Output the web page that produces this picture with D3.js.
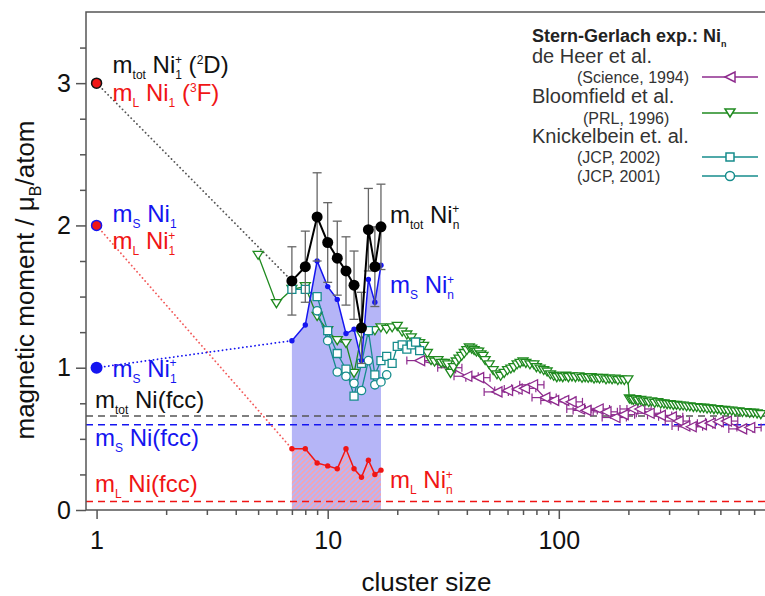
<!DOCTYPE html>
<html>
<head>
<meta charset="utf-8">
<script src="https://d3js.org/d3.v7.min.js"></script>
<style>
  body { margin: 0; background: #fff; }
  svg { font-family: Arial, "Liberation Sans", sans-serif; }
</style>
</head>
<body>
<script>
// ---- data ----
// cationic clusters (XMCD), n = 7..17
var clusterN   = [7, 8, 9, 10, 11, 12, 13, 14, 15, 16, 17];
var mTot       = [1.61, 1.71, 2.06, 1.88, 1.77, 1.68, 1.58, 1.28, 1.97, 1.71, 1.99];
var mTotErr    = [0.24, 0.25, 0.31, 0.28, 0.26, 0.24, 0.24, 0.25, 0.29, 0.28, 0.30];
var mSpin      = [1.19, 1.30, 1.75, 1.57, 1.48, 1.24, 1.27, 1.05, 1.62, 1.46, 1.72];
var mOrb       = [0.43, 0.43, 0.33, 0.31, 0.29, 0.43, 0.29, 0.23, 0.35, 0.25, 0.28];

// atom values (n = 1)
var atomTot = 3, atomSpin = 2, atomSpinIon = 1;
// bulk fcc values
var bulkTot = 0.66, bulkSpin = 0.60, bulkOrb = 0.06;

// Stern-Gerlach: de Heer et al. (Science 1994)
var heerN = [25, 34, 40, 45, 54, 60, 66, 71, 77, 87, 95, 105, 113, 123, 131, 148, 160, 175, 190, 209,
             224, 246, 275, 307, 328, 351, 374, 414, 452, 490, 531, 618, 670];
var heerM = [1.05, 1.00, 0.94, 0.93, 0.83, 0.84, 0.85, 0.855, 0.88, 0.79, 0.77, 0.77, 0.76, 0.71, 0.70, 0.71, 0.69, 0.65, 0.67, 0.71,
             0.71, 0.68, 0.665, 0.655, 0.625, 0.59, 0.585, 0.60, 0.61, 0.62, 0.625, 0.57, 0.58];
var heerSizeErr = 0.12;

// Bloomfield et al. (PRL 1996)
var bloomN = [5, 6, 7, 8, 9, 10, 11, 12, 13, 14, 15, 16, 17, 18, 19, 20, 21, 22, 23, 24, 25, 26, 27, 28, 29, 30,
              31, 32, 33, 34, 35, 36, 37, 38, 39, 40, 41, 42, 43, 44, 45, 46, 47, 48, 50, 52, 54, 56, 58, 60,
              62, 64, 66, 68, 70, 72, 75, 78, 80, 83, 86, 89, 92, 95, 98, 101, 104, 107, 110, 114, 118, 122,
              126, 130, 134, 138, 142, 146, 150, 155, 160, 165, 170, 175, 180, 186, 192, 199, 202, 206, 210,
              215, 220, 226, 232, 238, 245, 252, 260, 268, 276, 285, 294, 303, 313, 323, 334, 345, 357, 369,
              382, 395, 409, 423, 438, 453, 469, 486, 503, 521, 540, 560, 580, 601, 623, 646, 670, 695, 721, 748];
var bloomM = [1.79, 1.45, 1.55, 1.57, 1.36, 1.26, 1.19, 1.17, 0.96, 1.23, 1.25, 1.26, 1.28, 1.27, 1.28, 1.29, 1.25, 1.23, 1.21, 1.18, 1.17, 1.15, 1.10, 1.05, 1.04, 1.05,
              1.03, 1.03, 1.02, 0.96, 1.00, 1.04, 1.06, 1.08, 1.10, 1.12, 1.14, 1.13, 1.12, 1.11, 1.11, 1.09, 1.08, 1.05, 1.02, 0.98, 0.95, 0.94, 0.96, 0.98,
              0.99, 1.00, 1.02, 1.03, 1.04, 1.03, 1.02, 1.02, 1.00, 0.99, 0.98, 0.97, 0.95, 0.94, 0.93, 0.935, 0.93, 0.94, 0.93, 0.935, 0.93, 0.935,
              0.925, 0.93, 0.925, 0.93, 0.92, 0.925, 0.92, 0.925, 0.915, 0.92, 0.915, 0.92, 0.91, 0.915, 0.91, 0.915, 0.78, 0.775, 0.77,
              0.775, 0.765, 0.77, 0.76, 0.765, 0.755, 0.76, 0.75, 0.755, 0.745, 0.745, 0.74, 0.74, 0.735, 0.735, 0.73, 0.73, 0.725, 0.725,
              0.72, 0.72, 0.715, 0.715, 0.71, 0.71, 0.705, 0.705, 0.70, 0.70, 0.695, 0.695, 0.69, 0.69, 0.685, 0.685, 0.68, 0.68, 0.675, 0.67];

// Knickelbein et al. (JCP 2002, squares; JCP 2001, circles)
var knick02N = [7, 8, 9, 10, 11, 12, 13, 14, 15, 16, 17, 18, 19, 20, 21, 22, 23, 24, 25];
var knick02M = [1.55, 1.55, 1.50, 1.26, 1.10, 0.99, 0.80, 1.03, 1.26, 0.95, 1.05, 1.08, 1.03, 1.15, 1.16, 1.13, 1.16, 1.18, 1.12];
var knick01N = [9, 10, 11, 12, 13, 14, 15, 16, 17, 18];
var knick01M = [1.40, 1.19, 0.97, 0.94, 0.89, 0.84, 1.05, 0.88, 0.90, 0.95];

var xTicks = [1, 10, 100];
var yTicks = [0, 1, 2, 3];

// ---- layout ----
var width = 765, height = 596;
var pLeft = 86, pRight = 765, pTop = 12, pBottom = 510;

var blue = "#1515f0", red = "#f01515", grey = "#555",
    purple = "#8e2b8e", green = "#1f8a1f", teal = "#168c8c";

var svg = d3.select("body").append("svg")
    .attr("width", width)
    .attr("height", height);

var x = d3.scaleLog().domain([0.9, 780]).range([pLeft, pRight]);
var y = d3.scaleLinear().domain([0, 3.5]).range([pBottom, pTop]);

var defs = svg.append("defs");
defs.append("clipPath").attr("id", "clip")
  .append("rect")
    .attr("x", pLeft).attr("y", pTop)
    .attr("width", pRight - pLeft).attr("height", pBottom - pTop);

var hatch = defs.append("pattern")
    .attr("id", "hatch")
    .attr("patternUnits", "userSpaceOnUse")
    .attr("width", 5).attr("height", 5);
hatch.append("path")
    .attr("d", "M-1,1 l2,-2 M0,5 l5,-5 M4,6 l2,-2")
    .attr("stroke", "#f5a3b0")
    .attr("stroke-width", 1.6);

var plot = svg.append("g").attr("clip-path", "url(#clip)");

function zip(a, b) { return a.map(function(d, i) { return [d, b[i]]; }); }

// shaded areas under m_S and m_L of the cations
var area = d3.area()
    .x(function(d) { return x(d[0]); })
    .y0(y(0))
    .y1(function(d) { return y(d[1]); });

plot.append("path")
    .datum(zip(clusterN, mSpin))
    .attr("d", area)
    .attr("fill", "#b5b5f7");

plot.append("path")
    .datum(zip(clusterN, mOrb))
    .attr("d", area)
    .attr("fill", "url(#hatch)");

// bulk reference lines
[[bulkTot, grey], [bulkSpin, blue], [bulkOrb, red]].forEach(function(b) {
  plot.append("line")
      .attr("x1", pLeft).attr("x2", pRight)
      .attr("y1", y(b[0])).attr("y2", y(b[0]))
      .attr("stroke", b[1])
      .attr("stroke-width", 1.5)
      .attr("stroke-dasharray", "7,5");
});

// dotted guides from atoms to n = 7
[[atomTot, mTot[0], grey], [atomSpin, mOrb[0], "#f25a5a"], [atomSpinIon, mSpin[0], blue]].forEach(function(g) {
  plot.append("line")
      .attr("x1", x(1)).attr("y1", y(g[0]))
      .attr("x2", x(clusterN[0])).attr("y2", y(g[1]))
      .attr("stroke", g[2])
      .attr("stroke-width", 1.8)
      .attr("stroke-linecap", "round")
      .attr("stroke-dasharray", "0.1,4");
});

var line = d3.line()
    .x(function(d) { return x(d[0]); })
    .y(function(d) { return y(d[1]); });

var downTri = "M-5,-4L5,-4L0,4Z",
    leftTri = "M-5,0L5,-5L5,5Z",
    square = "M-4,-4H4V4H-4Z";

function markers(g, pts, path, color) {
  g.selectAll(null)
    .data(pts)
    .enter().append("path")
      .attr("d", path)
      .attr("transform", function(d) { return "translate(" + x(d[0]) + "," + y(d[1]) + ")"; })
      .attr("fill", "#fff")
      .attr("stroke", color)
      .attr("stroke-width", 1.3);
}

// de Heer
var heer = zip(heerN, heerM);
var gHeer = plot.append("g");
gHeer.append("path").datum(heer).attr("d", line)
    .attr("fill", "none").attr("stroke", purple).attr("stroke-width", 1.3);
var eb = gHeer.selectAll(null).data(heer).enter().append("g").attr("stroke", purple).attr("stroke-width", 1.2);
eb.append("line")
    .attr("x1", function(d) { return x(d[0] * (1 - heerSizeErr)); })
    .attr("x2", function(d) { return x(d[0] * (1 + heerSizeErr)); })
    .attr("y1", function(d) { return y(d[1]); })
    .attr("y2", function(d) { return y(d[1]); });
[1 - heerSizeErr, 1 + heerSizeErr].forEach(function(f) {
  eb.append("line")
      .attr("x1", function(d) { return x(d[0] * f); })
      .attr("x2", function(d) { return x(d[0] * f); })
      .attr("y1", function(d) { return y(d[1]) - 4; })
      .attr("y2", function(d) { return y(d[1]) + 4; });
});
markers(gHeer, heer, leftTri, purple);

// Bloomfield
var bloom = zip(bloomN, bloomM);
var gBloom = plot.append("g");
gBloom.append("path").datum(bloom).attr("d", line)
    .attr("fill", "none").attr("stroke", green).attr("stroke-width", 1.3);
markers(gBloom, bloom, downTri, green);

// Knickelbein
var k02 = zip(knick02N, knick02M), k01 = zip(knick01N, knick01M);
var gKnick = plot.append("g");
gKnick.append("path").datum(k02).attr("d", line)
    .attr("fill", "none").attr("stroke", teal).attr("stroke-width", 1.3);
gKnick.append("path").datum(k01).attr("d", line)
    .attr("fill", "none").attr("stroke", teal).attr("stroke-width", 1.3);
markers(gKnick, k02, square, teal);
gKnick.selectAll(null).data(k01).enter().append("circle")
    .attr("cx", function(d) { return x(d[0]); })
    .attr("cy", function(d) { return y(d[1]); })
    .attr("r", 4.2)
    .attr("fill", "#fff").attr("stroke", teal).attr("stroke-width", 1.3);

// cation m_L and m_S
[[mOrb, red], [mSpin, blue]].forEach(function(s) {
  var pts = zip(clusterN, s[0]);
  plot.append("path").datum(pts).attr("d", line)
      .attr("fill", "none").attr("stroke", s[1]).attr("stroke-width", 1.5);
  plot.selectAll(null).data(pts).enter().append("circle")
      .attr("cx", function(d) { return x(d[0]); })
      .attr("cy", function(d) { return y(d[1]); })
      .attr("r", 2.7)
      .attr("fill", s[1]);
});

// cation m_tot with error bars
var tot = zip(clusterN, mTot);
var gTot = plot.append("g");
var errs = gTot.selectAll(null).data(tot).enter().append("g")
    .attr("stroke", "#666").attr("stroke-width", 1.3);
errs.append("line")
    .attr("x1", function(d) { return x(d[0]); })
    .attr("x2", function(d) { return x(d[0]); })
    .attr("y1", function(d, i) { return y(d[1] + mTotErr[i]); })
    .attr("y2", function(d, i) { return y(d[1] - mTotErr[i]); });
[1, -1].forEach(function(sgn) {
  errs.append("line")
      .attr("x1", function(d) { return x(d[0]) - 4.5; })
      .attr("x2", function(d) { return x(d[0]) + 4.5; })
      .attr("y1", function(d, i) { return y(d[1] + sgn * mTotErr[i]); })
      .attr("y2", function(d, i) { return y(d[1] + sgn * mTotErr[i]); });
});
gTot.append("path").datum(tot).attr("d", line)
    .attr("fill", "none").attr("stroke", "#000").attr("stroke-width", 2);
gTot.selectAll(null).data(tot).enter().append("circle")
    .attr("cx", function(d) { return x(d[0]); })
    .attr("cy", function(d) { return y(d[1]); })
    .attr("r", 5.5)
    .attr("fill", "#000");

// atom markers
plot.append("circle").attr("cx", x(1)).attr("cy", y(atomTot)).attr("r", 5)
    .attr("fill", red).attr("stroke", "#111").attr("stroke-width", 1.5);
plot.append("circle").attr("cx", x(1)).attr("cy", y(atomSpin)).attr("r", 5)
    .attr("fill", red).attr("stroke", blue).attr("stroke-width", 1.5);
plot.append("circle").attr("cx", x(1)).attr("cy", y(atomSpinIon)).attr("r", 6)
    .attr("fill", blue);

// ---- axes ----
function styleAxis(g) {
  g.select(".domain").remove();
  g.selectAll(".tick line").attr("stroke", grey).attr("stroke-width", 1.5);
  g.selectAll(".tick text").attr("fill", "#111").style("font-size", "25px").style("font-family", "Arial, 'Liberation Sans', sans-serif");
}

var xMinor = [];
[1, 10, 100].forEach(function(d) {
  for (var k = 2; k <= 9; k++) if (d * k <= 780) xMinor.push(d * k);
});
var yMinor = d3.range(0.25, 3.5, 0.25).filter(function(v) { return v % 1 !== 0; });

svg.append("g")
    .attr("transform", "translate(0," + pBottom + ")")
    .call(d3.axisBottom(x).tickValues(xTicks).tickFormat(d3.format("d")).tickSize(9).tickPadding(12))
    .call(styleAxis);
svg.append("g")
    .attr("transform", "translate(0," + pBottom + ")")
    .call(d3.axisBottom(x).tickValues(xMinor).tickFormat("").tickSize(5))
    .call(styleAxis);
svg.append("g")
    .attr("transform", "translate(" + pLeft + ",0)")
    .call(d3.axisLeft(y).tickValues(yTicks).tickFormat(d3.format("d")).tickSize(10).tickPadding(5))
    .call(styleAxis);
svg.append("g")
    .attr("transform", "translate(" + pLeft + ",0)")
    .call(d3.axisLeft(y).tickValues(yMinor).tickFormat("").tickSize(6))
    .call(styleAxis);

svg.append("path")
    .attr("d", "M" + pLeft + "," + pBottom + "V" + pTop + "H" + pRight)
    .attr("fill", "none")
    .attr("stroke", grey)
    .attr("stroke-width", 1.5);
svg.append("line")
    .attr("x1", pLeft).attr("x2", pRight).attr("y1", pBottom).attr("y2", pBottom)
    .attr("stroke", grey).attr("stroke-width", 1.5);

// ---- text ----
function rich(x0, y0, parts, color, size, weight) {
  var t = svg.append("text")
      .attr("x", x0).attr("y", y0)
      .attr("fill", color)
      .style("font-size", size + "px");
  if (weight) t.style("font-weight", weight);
  var shift = 0;
  parts.forEach(function(p) {
    var target = p[1] === "sub" ? size * 0.25 : p[1] === "sup" ? -size * 0.4 : 0;
    var ts = t.append("tspan").attr("dy", target - shift).text(p[0]);
    if (p[1]) ts.style("font-size", Math.round(size * 0.52) + "px");
    if (p[2]) ts.attr("dx", p[2]);
    shift = target;
  });
  return t;
}

var fs = 24;
rich(x(1) + 16, y(atomTot) - 10,
     [["m"], ["tot", "sub"], [" Ni"], ["1", "sub"], ["+", "sup", -7], [" ("], ["2", "sup"], ["D)"]], "#111", fs);
rich(x(1) + 16, y(atomTot) + 18,
     [["m"], ["L", "sub"], ["  Ni"], ["1", "sub"], [" ("], ["3", "sup"], ["F)"]], red, fs);
rich(x(1) + 16, y(atomSpin) - 3,
     [["m"], ["S", "sub"], [" Ni"], ["1", "sub"]], blue, fs);
rich(x(1) + 16, y(atomSpin) + 24,
     [["m"], ["L", "sub"], [" Ni"], ["1", "sub"], ["+", "sup", -7]], red, fs);
rich(x(1) + 16, y(atomSpinIon) + 9,
     [["m"], ["S", "sub"], [" Ni"], ["1", "sub"], ["+", "sup", -7]], blue, fs);

rich(pLeft + 9, y(bulkTot) - 8, [["m"], ["tot", "sub"], [" Ni(fcc)"]], "#111", fs);
rich(pLeft + 9, y(bulkSpin) + 21, [["m"], ["S", "sub"], [" Ni(fcc)"]], blue, fs);
rich(pLeft + 9, y(bulkOrb) - 9, [["m"], ["L", "sub"], [" Ni(fcc)"]], red, fs);

rich(x(17) + 9, y(mTot[10]) - 4, [["m"], ["tot", "sub"], [" Ni"], ["n", "sub"], ["+", "sup", -7]], "#111", fs);
rich(x(17) + 9, y(mSpin[10]) + 28, [["m"], ["S", "sub"], [" Ni"], ["n", "sub"], ["+", "sup", -7]], blue, fs);
rich(x(17) + 9, y(mOrb[10]) + 18, [["m"], ["L", "sub"], [" Ni"], ["n", "sub"], ["+", "sup", -7]], red, fs);

// axis titles
svg.append("text")
    .attr("x", (pLeft + pRight) / 2 + 1)
    .attr("y", 591)
    .attr("text-anchor", "middle")
    .style("font-size", "26px")
    .attr("fill", "#111")
    .text("cluster size");

var yt = svg.append("text")
    .attr("transform", "translate(34,280) rotate(-90)")
    .attr("text-anchor", "middle")
    .style("font-size", "26px")
    .attr("fill", "#111");
yt.append("tspan").text("magnetic moment / μ");
yt.append("tspan").attr("dy", 7).style("font-size", "16px").text("B");
yt.append("tspan").attr("dy", -7).text("/atom");

// ---- legend ----
rich(532, 42, [["Stern-Gerlach exp.: Ni"], ["n", "sub"]], "#222", 18, "bold");
var legendRows = [
  ["de Heer et al.", 63, 532, 20],
  ["(Science, 1994)", 83, 577, 16],
  ["Bloomfield et al.", 103, 532, 20],
  ["(PRL, 1996)", 124, 583, 16],
  ["Knickelbein et. al.", 143, 532, 20],
  ["(JCP, 2002)", 163, 577, 16],
  ["(JCP, 2001)", 182, 577, 16]
];
legendRows.forEach(function(r) {
  svg.append("text").attr("x", r[2]).attr("y", r[1])
      .style("font-size", r[3] + "px").attr("fill", "#333").text(r[0]);
});

var legendKeys = [[77, purple, leftTri], [113, green, downTri], [157, teal, square], [176, teal, null]];
legendKeys.forEach(function(k) {
  svg.append("line").attr("x1", 702).attr("x2", 758).attr("y1", k[0]).attr("y2", k[0])
      .attr("stroke", k[1]).attr("stroke-width", 1.5);
  if (k[2]) {
    svg.append("path").attr("d", k[2]).attr("transform", "translate(730," + k[0] + ")")
        .attr("fill", "#fff").attr("stroke", k[1]).attr("stroke-width", 1.5);
  } else {
    svg.append("circle").attr("cx", 730).attr("cy", k[0]).attr("r", 4.5)
        .attr("fill", "#fff").attr("stroke", k[1]).attr("stroke-width", 1.5);
  }
});
</script>
</body>
</html>
